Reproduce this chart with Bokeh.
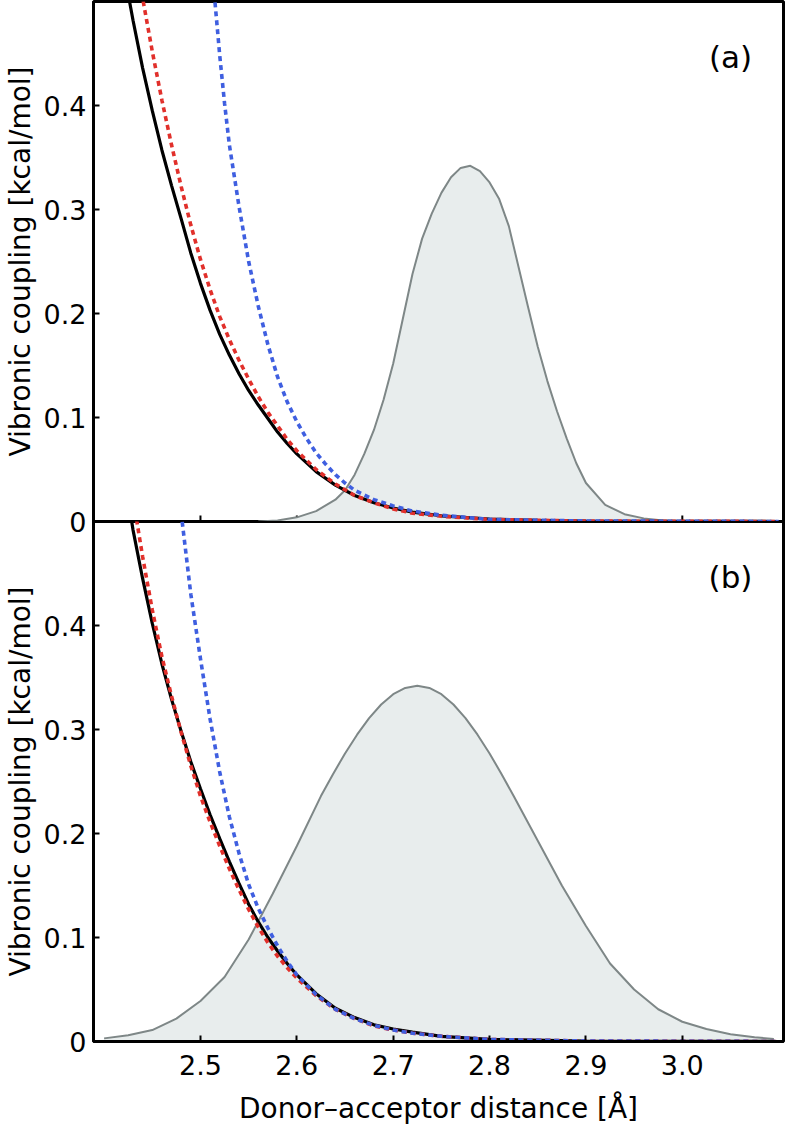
from bokeh.plotting import figure
from bokeh.models import Range1d, FixedTicker, Label
from bokeh.layouts import column
from bokeh.embed import file_html
from bokeh.resources import INLINE

# ---------------- data ----------------
x_ticks = [2.5, 2.6, 2.7, 2.8, 2.9, 3.0]
x_tick_labels = ["2.5", "2.6", "2.7", "2.8", "2.9", "3.0"]
y_ticks = [0.0, 0.1, 0.2, 0.3, 0.4]
y_tick_labels = ["0", "0.1", "0.2", "0.3", "0.4"]
panel_labels = ["(a)", "(b)"]
x_title = "Donor\u2013acceptor distance [\u00c5]"
y_title = "Vibronic coupling [kcal/mol]"

# panel (a)
a_black_x = [2.42, 2.4264, 2.43, 2.44, 2.45, 2.46, 2.47, 2.48, 2.49, 2.50, 2.51, 2.52, 2.53, 2.54, 2.55,
             2.56, 2.57, 2.58, 2.59, 2.60, 2.62, 2.64, 2.66, 2.68, 2.70, 2.72, 2.75, 2.80, 2.85, 2.90, 3.10]
a_black_y = [0.533, 0.500, 0.482, 0.436, 0.395, 0.357, 0.323, 0.291, 0.258, 0.229, 0.203, 0.180, 0.160,
             0.142, 0.126, 0.112, 0.099, 0.086, 0.075, 0.065, 0.048, 0.035, 0.025, 0.018, 0.013, 0.009,
             0.0055, 0.0024, 0.001, 0.0004, 0.0]
a_red_x = [2.43, 2.4406, 2.45, 2.46, 2.47, 2.48, 2.49, 2.50, 2.51, 2.52, 2.53, 2.54, 2.55, 2.56, 2.57, 2.58,
           2.59, 2.60, 2.62, 2.64, 2.66, 2.68, 2.70, 2.72, 2.75, 2.80, 2.90, 3.10]
a_red_y = [0.560, 0.500, 0.452, 0.405, 0.362, 0.322, 0.285, 0.252, 0.223, 0.197, 0.175, 0.155, 0.137, 0.120,
           0.105, 0.092, 0.079, 0.068, 0.050, 0.036, 0.025, 0.018, 0.012, 0.008, 0.005, 0.002, 0.0004, 0.0]
a_blue_x = [2.505, 2.515, 2.52, 2.525, 2.53, 2.54, 2.55, 2.56, 2.57, 2.58, 2.59, 2.60, 2.61, 2.62, 2.63, 2.64,
            2.65, 2.66, 2.68, 2.70, 2.72, 2.75, 2.80, 2.90, 3.10]
a_blue_y = [0.620, 0.500, 0.448, 0.402, 0.362, 0.303, 0.250, 0.207, 0.170, 0.139, 0.115, 0.096, 0.080, 0.066,
            0.055, 0.045, 0.037, 0.030, 0.021, 0.015, 0.010, 0.006, 0.002, 0.0005, 0.0]
a_dist_x = [2.56, 2.58, 2.60, 2.62, 2.64, 2.65, 2.66, 2.67, 2.68, 2.69, 2.70, 2.71, 2.72, 2.73, 2.74, 2.75,
            2.76, 2.77, 2.78, 2.79, 2.80, 2.81, 2.82, 2.83, 2.84, 2.85, 2.86, 2.87, 2.88, 2.89, 2.90, 2.92,
            2.94, 2.96, 2.98, 3.00]
a_dist_y = [0.000, 0.001, 0.004, 0.010, 0.021, 0.030, 0.045, 0.065, 0.088, 0.117, 0.152, 0.195, 0.238, 0.272,
            0.296, 0.316, 0.331, 0.340, 0.342, 0.337, 0.326, 0.310, 0.284, 0.245, 0.206, 0.168, 0.135, 0.106,
            0.080, 0.056, 0.037, 0.016, 0.007, 0.003, 0.001, 0.000]

# panel (b)
b_black_x = [2.42, 2.43, 2.44, 2.45, 2.46, 2.47, 2.48, 2.49, 2.50, 2.51, 2.52, 2.53, 2.54, 2.55, 2.56, 2.57,
             2.58, 2.59, 2.60, 2.62, 2.64, 2.66, 2.68, 2.70, 2.72, 2.75, 2.80, 2.90, 3.10]
b_black_y = [0.550, 0.492, 0.445, 0.402, 0.363, 0.329, 0.298, 0.269, 0.243, 0.218, 0.195, 0.173, 0.152, 0.132,
             0.115, 0.100, 0.087, 0.075, 0.064, 0.046, 0.032, 0.023, 0.016, 0.012, 0.009, 0.005, 0.002,
             0.0005, 0.0]
b_red_x = [2.42, 2.434, 2.44, 2.45, 2.46, 2.47, 2.48, 2.49, 2.50, 2.51, 2.52, 2.53, 2.54, 2.55, 2.56, 2.57,
           2.58, 2.59, 2.60, 2.62, 2.64, 2.66, 2.68, 2.70, 2.72, 2.75, 2.80, 2.90, 3.10]
b_red_y = [0.570, 0.500, 0.466, 0.415, 0.370, 0.332, 0.297, 0.265, 0.236, 0.211, 0.188, 0.166, 0.146, 0.127,
           0.110, 0.095, 0.082, 0.071, 0.061, 0.044, 0.031, 0.022, 0.015, 0.011, 0.008, 0.005, 0.002,
           0.0005, 0.0]
b_blue_x = [2.475, 2.481, 2.49, 2.50, 2.51, 2.52, 2.53, 2.54, 2.55, 2.56, 2.57, 2.58, 2.59, 2.60, 2.62, 2.64,
            2.66, 2.68, 2.70, 2.72, 2.75, 2.80, 2.90, 3.10]
b_blue_y = [0.560, 0.500, 0.430, 0.368, 0.310, 0.259, 0.216, 0.181, 0.151, 0.128, 0.109, 0.092, 0.077, 0.064,
            0.045, 0.031, 0.022, 0.0155, 0.011, 0.008, 0.005, 0.002, 0.0005, 0.0]
b_dist_x = [2.400, 2.425, 2.450, 2.475, 2.500, 2.525, 2.550, 2.575, 2.600, 2.625, 2.6375, 2.650, 2.6625,
            2.675, 2.6875, 2.700, 2.7125, 2.725, 2.7375, 2.750, 2.7625, 2.775, 2.7875, 2.800, 2.8125, 2.825,
            2.850, 2.875, 2.900, 2.925, 2.950, 2.975, 3.000, 3.025, 3.050, 3.075, 3.095]
b_dist_y = [0.003, 0.006, 0.011, 0.022, 0.039, 0.062, 0.098, 0.142, 0.188, 0.236, 0.257, 0.277, 0.295,
            0.311, 0.324, 0.334, 0.340, 0.342, 0.340, 0.334, 0.324, 0.311, 0.295, 0.277, 0.257, 0.236,
            0.193, 0.150, 0.111, 0.075, 0.050, 0.031, 0.019, 0.012, 0.007, 0.004, 0.0025]

# ---------------- style ----------------
FONT = "DejaVu Sans"
BLACK_C = "#000000"
RED_C = "#e1302b"
BLUE_C = "#3f5fe0"
DIST_FILL = "#e8eded"
DIST_LINE = "#7e8787"
X_RANGE = (2.389, 3.105)
FRAME_W = 691
FRAME_H = 520
BORDER_L = 92
BORDER_R = 4
TICK_PX = 6
A_BORDER_TOP = 1
A_BORDER_BOTTOM = 18
B_BORDER_BOTTOM = 86
Y_END = 0.5


def style_axes(p, with_x_axis):
    p.grid.visible = False
    p.outline_line_color = "black"
    p.outline_line_width = 3
    p.outline_line_alpha = 1.0
    for ax in p.axis:
        ax.axis_line_width = 3
        ax.axis_line_color = "black"
        ax.major_tick_in = TICK_PX
        ax.major_tick_out = 0
        ax.major_tick_line_width = 2
        ax.major_tick_line_color = "black"
        ax.minor_tick_in = 0
        ax.minor_tick_out = 0
        ax.major_label_text_font = FONT
        ax.major_label_text_color = "black"
        ax.major_label_text_line_height = 1.0
        ax.axis_label_text_font = FONT
        ax.axis_label_text_font_style = "normal"
        ax.axis_label_text_color = "black"
        ax.axis_label_text_line_height = 1.0
    yax = p.yaxis[0]
    yax.ticker = FixedTicker(ticks=y_ticks)
    yax.major_label_overrides = {t: s for t, s in zip(y_ticks, y_tick_labels)}
    yax.major_label_text_font_size = "27px"
    yax.major_label_standoff = 7
    yax.axis_label = y_title
    yax.axis_label_text_font_size = "28px"
    yax.axis_label_standoff = 4
    xax = p.xaxis[0]
    xax.ticker = FixedTicker(ticks=x_ticks)
    if with_x_axis:
        xax.major_label_overrides = {t: s for t, s in zip(x_ticks, x_tick_labels)}
        xax.major_label_text_font_size = "27px"
        xax.major_label_standoff = 13
        xax.axis_label = x_title
        xax.axis_label_text_font_size = "28px"
        xax.axis_label_standoff = 14
    else:
        xax.visible = False
        # inward ticks along the shared middle border, same positions as the axis ticks
        tick_len = TICK_PX * Y_END / FRAME_H
        p.segment(x0=x_ticks, y0=[0] * len(x_ticks), x1=x_ticks, y1=[tick_len] * len(x_ticks),
                  line_color="black", line_width=2)


def draw_panel(p, dist_x, dist_y, bx, by, rx, ry, ux, uy, label):
    p.varea(x=dist_x, y1=0, y2=dist_y, fill_color=DIST_FILL)
    p.line(dist_x, dist_y, line_color=DIST_LINE, line_width=2)
    p.line(bx, by, line_color=BLACK_C, line_width=3.2)
    p.line(rx, ry, line_color=RED_C, line_width=3.6, line_dash="5 4")
    p.line(ux, uy, line_color=BLUE_C, line_width=3.6, line_dash="5 4")
    p.add_layout(Label(x=3.05, y=0.447, text=label, text_font=FONT, text_font_size="31px",
                       text_align="center", text_baseline="middle", text_color="black"))


W = BORDER_L + FRAME_W + BORDER_R

# top panel (a)
pa = figure(width=W, height=A_BORDER_TOP + FRAME_H + A_BORDER_BOTTOM,
            x_range=Range1d(*X_RANGE), y_range=Range1d(0, Y_END),
            output_backend="svg", toolbar_location=None,
            min_border_left=BORDER_L, min_border_right=BORDER_R,
            min_border_top=A_BORDER_TOP, min_border_bottom=A_BORDER_BOTTOM,
            margin=(0, 0, -A_BORDER_BOTTOM, 0))
style_axes(pa, with_x_axis=False)
draw_panel(pa, a_dist_x, a_dist_y, a_black_x, a_black_y, a_red_x, a_red_y, a_blue_x, a_blue_y, panel_labels[0])

# bottom panel (b)
pb = figure(width=W, height=FRAME_H + B_BORDER_BOTTOM,
            x_range=Range1d(*X_RANGE), y_range=Range1d(0, Y_END),
            output_backend="svg", toolbar_location=None,
            min_border_left=BORDER_L, min_border_right=BORDER_R,
            min_border_top=0, min_border_bottom=B_BORDER_BOTTOM,
            margin=(0, 0, 0, 0))
pb.border_fill_alpha = 0
pb.background_fill_alpha = 0
style_axes(pb, with_x_axis=True)
draw_panel(pb, b_dist_x, b_dist_y, b_black_x, b_black_y, b_red_x, b_red_y, b_blue_x, b_blue_y, panel_labels[1])

layout = column(pa, pb, spacing=0)
open("out.html", "w").write(file_html(layout, INLINE))
